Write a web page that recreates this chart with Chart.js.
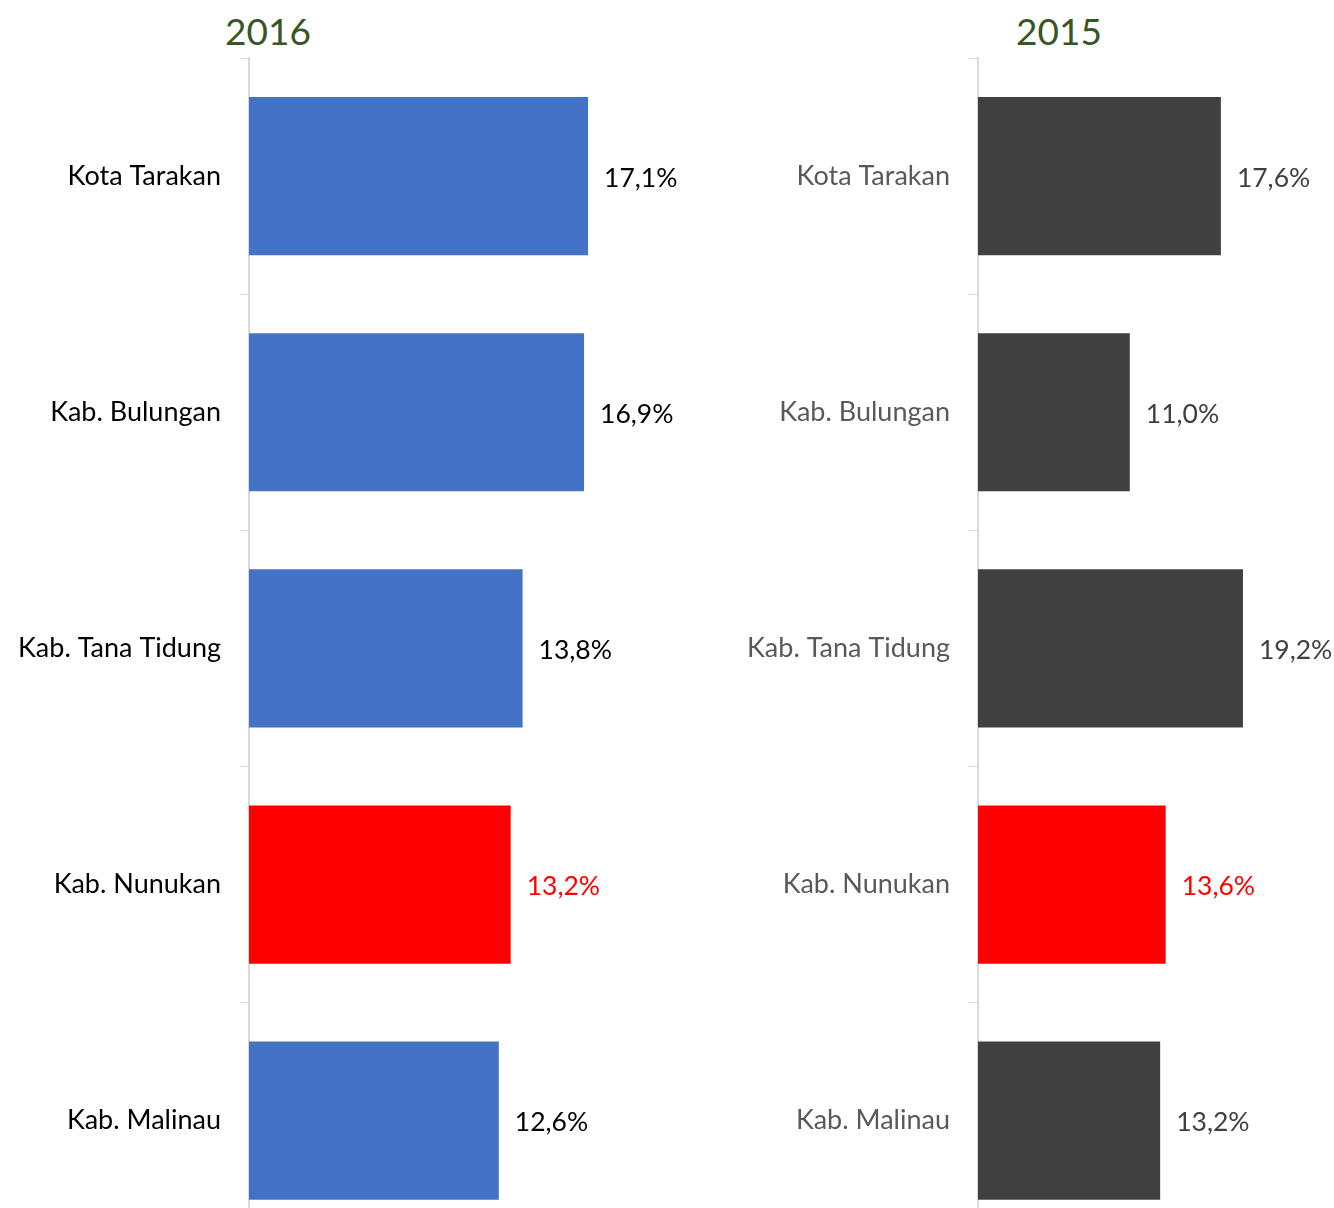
<!DOCTYPE html>
<html>
<head>
<meta charset="utf-8">
<script src="https://cdn.jsdelivr.net/npm/chart.js@4"></script>
<style>
  html, body { margin: 0; padding: 0; background: #fff; overflow: hidden; width: 1334px; height: 1208px; }
  canvas { position: absolute; top: 0; }
  .title { position: absolute; top: 8px; font-family: Lato, sans-serif; font-size: 37px; color: #375623; transform: translateX(-50%); }
</style>
</head>
<body>
<div class="title" style="left:268px">2016</div>
<div class="title" style="left:1059px">2015</div>
<canvas id="c2016" width="720" height="1274" style="left:0"></canvas>
<canvas id="c2015" width="634" height="1274" style="left:700px"></canvas>
<script>
const regions = ['Kota Tarakan', 'Kab. Bulungan', 'Kab. Tana Tidung', 'Kab. Nunukan', 'Kab. Malinau'];
const values2016 = [17.1, 16.9, 13.8, 13.2, 12.6];
const values2015 = [17.6, 11.0, 19.2, 13.6, 13.2];
const highlight = 'Kab. Nunukan';

const fontFamily = 'Lato, sans-serif';

// draws "17,1%" after the end of each bar
const valueLabels = {
    id: 'valueLabels',
    afterDatasetsDraw(chart) {
        const ctx = chart.ctx;
        const meta = chart.getDatasetMeta(0);
        const data = chart.data.datasets[0].data;
        ctx.save();
        ctx.font = '26.5px ' + fontFamily;
        ctx.textBaseline = 'middle';
        ctx.textAlign = 'left';
        meta.data.forEach(function(bar, i) {
            ctx.fillStyle = chart.data.labels[i] === highlight ? '#FF0000' : chart.options.valueColor;
            ctx.fillText(data[i].toFixed(1).replace('.', ',') + '%', bar.x + 16, bar.y + 2);
        });
        ctx.restore();
    }
};

function makeChart(id, values, barColor, labelColor, valueColor, axisWidth, maxX, padRight) {
    return new Chart(document.getElementById(id), {
        type: 'bar',
        data: {
            labels: regions,
            datasets: [{
                data: values,
                backgroundColor: regions.map(r => r === highlight ? '#FF0000' : barColor),
                categoryPercentage: 1,
                barPercentage: 0.67
            }]
        },
        options: {
            indexAxis: 'y',
            responsive: false,
            animation: false,
            valueColor: valueColor,
            layout: {
                autoPadding: false,
                padding: { top: 58, right: padRight, left: 0, bottom: 0 }
            },
            scales: {
                x: {
                    display: false,
                    min: 0,
                    max: maxX
                },
                y: {
                    afterFit: function(scale) { scale.width = axisWidth; },
                    border: { color: '#D9D9D9', width: 2 },
                    grid: {
                        drawOnChartArea: false,
                        color: '#D9D9D9',
                        tickLength: 9,
                        offset: true
                    },
                    ticks: {
                        color: labelColor,
                        padding: 19,
                        font: { family: fontFamily, size: 27 }
                    }
                }
            },
            plugins: {
                legend: { display: false },
                tooltip: { enabled: false }
            }
        },
        plugins: [valueLabels]
    });
}

makeChart('c2016', values2016, '#4472C4', '#000000', '#000000', 249, 23, 15);
makeChart('c2015', values2015, '#404040', '#595959', '#404040', 278, 25, 11);
</script>
</body>
</html>
